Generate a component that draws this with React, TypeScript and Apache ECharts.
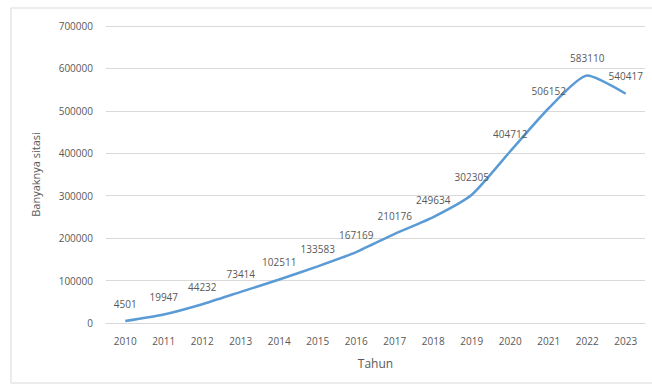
import React, { useEffect, useRef } from "react";
import * as echarts from "echarts";

const years = ["2010", "2011", "2012", "2013", "2014", "2015", "2016", "2017", "2018", "2019", "2020", "2021", "2022", "2023"];
const citations = [4501, 19947, 44232, 73414, 102511, 133583, 167169, 210176, 249634, 302305, 404712, 506152, 583110, 540417];
const yTicks = { min: 0, max: 700000, interval: 100000 };

export default function App() {
  const ref = useRef<HTMLDivElement>(null);
  useEffect(() => {
    const chart = echarts.init(ref.current!, undefined, { renderer: "svg" });
    const font = "'Open Sans', 'DejaVu Sans', sans-serif";
    chart.setOption({
      animation: false,
      backgroundColor: "#ffffff",
      textStyle: { fontFamily: font },
      graphic: [
        {
          type: "rect",
          shape: { x: 11, y: 8, width: 660, height: 375 },
          style: { fill: "none", stroke: "#d9d9d9", lineWidth: 1 },
          silent: true,
        },
      ],
      grid: { left: 106, right: 7, top: 26, bottom: 62 },
      xAxis: {
        type: "category",
        data: years,
        boundaryGap: true,
        name: "Tahun",
        nameLocation: "middle",
        nameGap: 34,
        nameTextStyle: { color: "#595959", fontSize: 12, fontFamily: font },
        axisLine: { show: true, lineStyle: { color: "#d9d9d9" } },
        axisTick: { show: false },
        axisLabel: { color: "#595959", fontSize: 10, margin: 13, fontFamily: font },
      },
      yAxis: {
        type: "value",
        min: yTicks.min,
        max: yTicks.max,
        interval: yTicks.interval,
        name: "Banyaknya sitasi",
        nameLocation: "middle",
        nameGap: 65,
        nameRotate: 90,
        nameTextStyle: { color: "#595959", fontSize: 11, fontFamily: font },
        axisLine: { show: false },
        axisTick: { show: false },
        axisLabel: {
          color: "#595959",
          fontSize: 10,
          margin: 13,
          fontFamily: font,
          formatter: (v: number) => String(v),
        },
        splitLine: { lineStyle: { color: "#d9d9d9", width: 1 } },
      },
      series: [
        {
          type: "line",
          data: citations,
          smooth: 0.2,
          symbol: "circle",
          symbolSize: 1,
          showSymbol: true,
          showAllSymbol: true,
          itemStyle: { color: "rgba(0,0,0,0)", borderWidth: 0 },
          lineStyle: { color: "#5b9bd5", width: 2.5 },
          label: {
            show: true,
            position: "top",
            distance: 12,
            color: "#595959",
            fontSize: 10,
            fontFamily: font,
            formatter: (p: any) => String(p.value),
          },
        },
      ],
    });
    return () => chart.dispose();
  }, []);
  return <div ref={ref} style={{ position: "fixed", left: 0, top: 0, width: 652, height: 385 }} />;
}
